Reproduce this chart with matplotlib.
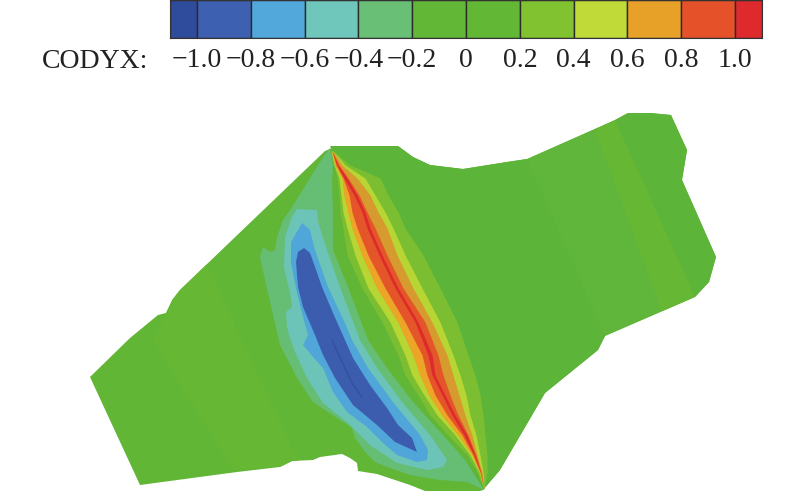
import numpy as np
import matplotlib.pyplot as plt
from matplotlib.patches import Polygon, Rectangle

plt.rcParams['font.family'] = ['Liberation Serif', 'DejaVu Serif']

# colour bar
levels = [-1.0, -0.8, -0.6, -0.4, -0.2, 0, 0.2, 0.4, 0.6, 0.8, 1.0]
level_labels = ['\u22121.0', '\u22120.8', '\u22120.6', '\u22120.4', '\u22120.2', '0', '0.2', '0.4', '0.6', '0.8', '1.0']
bar_edges = [-1.1] + levels + [1.1]
bar_colors = ['#2f4b9c', '#3e60b0', '#52a8da', '#6fc6bb', '#68bf75', '#62b737',
              '#62b734', '#80c22f', '#c0da38', '#e8a128', '#e5522a', '#de2a2c']

# outline of the model, picture coordinates
outline_x = [90, 130, 158, 166, 172, 180, 230, 325, 337, 398, 413, 430, 463, 507, 527, 615, 628, 650, 671, 687,
             682, 716, 709, 695, 605, 598, 545, 500, 483, 480, 425, 410, 377, 358, 357, 350, 342, 320, 313, 292, 280, 237, 140]
outline_y = [377, 338, 315, 313, 300, 290, 242, 151, 146, 146, 157, 165, 169, 162, 159, 120, 113, 113, 115, 150,
             180, 257, 282, 297, 336, 350, 393, 470, 490, 491, 491, 485, 474, 471, 463, 458, 454, 457, 460, 461, 467, 472, 485]

# faint stripes in the flat part
stripe1_x = [166, 200, 300, 233, 153]
stripe1_y = [313, 250, 465, 470, 340]
stripe2_x = [527, 615, 695, 605]
stripe2_y = [159, 120, 297, 336]
stripe3_x = [595, 615, 695, 662]
stripe3_y = [130, 120, 297, 312]

# band of negative values
neg1_x = [330, 320, 307, 292, 283, 277, 275, 270, 263, 260, 265, 280, 297, 313, 343, 352, 355, 365, 375, 390, 410, 440, 467, 484,
          465, 443, 413, 387, 368, 348, 333, 333, 332, 333]
neg1_y = [148, 162, 183, 207, 220, 237, 250, 252, 247, 257, 280, 345, 378, 402, 422, 428, 438, 452, 462, 468, 475, 480, 482, 490,
          460, 435, 402, 368, 340, 287, 250, 212, 182, 165]
neg2_x = [297, 317, 318, 327, 340, 360, 377, 402, 430, 447, 443, 427, 397, 370, 360, 348, 323, 307, 295, 289,
          287, 286, 292, 290, 284, 285, 292]
neg2_y = [209, 210, 222, 250, 287, 340, 368, 402, 435, 460, 467, 470, 463, 445, 435, 423, 403, 378, 352, 335,
          327, 312, 307, 293, 267, 237, 217]
neg3_x = [302, 310, 315, 328, 345, 352, 368, 393, 420, 428, 427, 417, 397, 383, 367, 347, 333, 323, 313, 303,
          308, 302, 297, 291, 291]
neg3_y = [223, 230, 250, 287, 323, 340, 368, 402, 435, 450, 460, 462, 455, 443, 427, 412, 392, 368, 357, 345,
          335, 313, 293, 263, 242]
neg4_x = [304, 310, 315, 322, 333, 345, 353, 370, 387, 398, 412, 417, 395, 377, 353, 335, 323, 315, 303, 298, 296, 298]
neg4_y = [248, 253, 267, 287, 313, 340, 358, 385, 408, 425, 438, 452, 442, 425, 405, 378, 355, 335, 307, 287, 262, 252]
neg5_x = [332, 342, 352, 362]
neg5_y = [340, 362, 383, 397]

# band of positive values, left and right edge per row
ridge_y = [151, 165, 178, 195, 212, 228, 255, 288, 322, 355, 375, 395, 415, 435, 455, 472, 489]
pos1_l = [331, 334, 337, 339, 340, 343, 347, 362, 382, 398, 405, 418, 430, 448, 467, 477, 484]
pos2_l = [331, 334, 339, 341, 343, 347, 355, 368, 390, 405, 412, 424, 437, 455, 470, 479, 484]
pos3_l = [332, 335, 342, 344, 348, 352, 362, 377, 398, 413, 420, 429, 442, 458, 472, 480, 484]
pos4_l = [332, 336, 343, 349, 352, 357, 368, 385, 405, 422, 427, 435, 447, 462, 473, 480, 484]
pos5_l = [332, 337, 344, 354, 362, 367, 379, 395, 415, 428, 432, 442, 452, 464, 474, 481, 484]
pos5_r = [332, 338, 347, 357, 365, 370, 382, 398, 418, 432, 435, 445, 455, 467, 475, 481, 484]
pos4_r = [332, 339, 348, 359, 367, 375, 387, 403, 425, 438, 443, 450, 458, 468, 476, 481, 484]
pos3_r = [333, 342, 357, 370, 378, 387, 397, 413, 432, 447, 453, 459, 465, 472, 477, 482, 484]
pos2_r = [333, 345, 365, 375, 385, 393, 405, 422, 440, 453, 460, 466, 470, 476, 480, 483, 484]
pos1_r = [333, 350, 380, 388, 398, 405, 423, 440, 457, 468, 475, 480, 483, 485, 487, 487, 484]

fig = plt.figure(figsize=(8, 4.91), dpi=100)
ax = fig.add_axes([0, 0, 1, 1])
ax.set_xlim(0, 800)
ax.set_ylim(491, 0)
ax.axis('off')

shape = Polygon(np.column_stack([outline_x, outline_y]), closed=True, fc='#62b636', ec='none')
ax.add_patch(shape)

# flat part to the right of the ridge
right_x = [330, 398, 413, 430, 463, 507, 527, 605, 598, 545, 500, 483]
right_y = [146, 146, 157, 165, 169, 162, 159, 336, 350, 393, 470, 490]
ax.fill(right_x, right_y, color='#5cb438', lw=0)
edge_x = [615, 628, 650, 671, 687, 682, 716, 709, 695]
edge_y = [120, 113, 113, 115, 150, 180, 257, 282, 297]
ax.fill(edge_x, edge_y, color='#5cb438', lw=0)

for xs, ys, col in [(stripe1_x, stripe1_y, '#66b733'), (stripe2_x, stripe2_y, '#60b63b'), (stripe3_x, stripe3_y, '#66b733')]:
    p = ax.fill(xs, ys, color=col, lw=0)[0]
    p.set_clip_path(shape)

ax.fill(neg1_x, neg1_y, color='#66bd74', lw=0)
ax.fill(neg2_x, neg2_y, color='#6cc4b8', lw=0)
ax.fill(neg3_x, neg3_y, color='#50a6d9', lw=0)
ax.fill(neg4_x, neg4_y, color='#3c5cad', lw=0)
ax.plot(neg5_x, neg5_y, color='#33509f', lw=1)

ax.fill_betweenx(ridge_y, pos1_l, pos1_r, color='#7cbe31', lw=0)
ax.fill_betweenx(ridge_y, pos2_l, pos2_r, color='#b7d634', lw=0)
ax.fill_betweenx(ridge_y, pos3_l, pos3_r, color='#d69a2e', lw=0)
ax.fill_betweenx(ridge_y, pos3_l, pos5_l, color='#eca526', lw=0)
ax.fill_betweenx(ridge_y, pos4_l, pos4_r, color='#e5552a', lw=0)
ax.fill_betweenx(ridge_y, pos5_l, pos5_r, color='#dd2a2a', lw=0)

# colour bar at the top
cax = fig.add_axes([170 / 800, 1 - 38 / 491, 592 / 800, 38 / 491])
cax.set_xlim(-1.1, 1.1)
cax.set_ylim(0, 1)
for i in range(len(bar_colors)):
    cax.add_patch(Rectangle((bar_edges[i], 0), bar_edges[i + 1] - bar_edges[i], 1,
                            fc=bar_colors[i], ec='#2b2b2b', lw=1))
cax.set_xticks(levels)
cax.set_xticklabels(level_labels, fontsize=20, color='#222222')
cax.tick_params(length=0, pad=7)
cax.set_yticks([])
for s in cax.spines.values():
    s.set_color('#333333')

ax.text(42, 61, 'CODYX:', fontsize=20, color='#222222', va='center', ha='left')

fig.savefig('out.png', dpi=100)
